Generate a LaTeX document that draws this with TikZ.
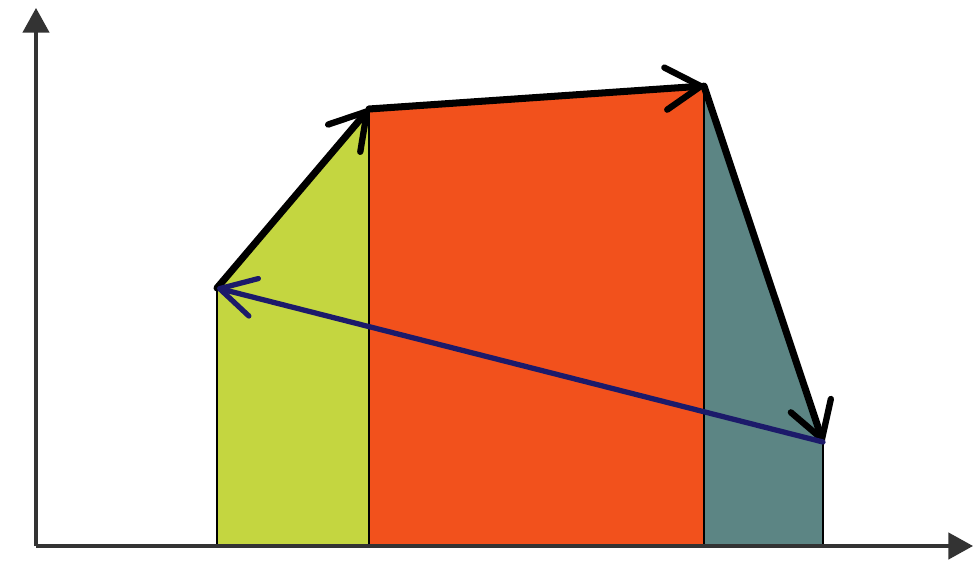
\documentclass[tikz,border=0pt]{standalone}
\usepackage{tikz}
\usetikzlibrary{arrows.meta}

\definecolor{lime}{HTML}{C4D640}
\definecolor{flame}{HTML}{F2511C}
\definecolor{slate}{HTML}{5C8584}
\definecolor{navy}{HTML}{1C1A6A}

\begin{document}
\begin{tikzpicture}[
  x=0.02cm, y=-0.02cm,
  axis/.style={draw=black!80, line width=1.8pt, -{Triangle[length=14pt, width=15pt]}},
  edge/.style={draw, line width=4pt, line cap=round, line join=round, -{Straight Barb[round, length=20pt, width=24pt, line width=3.6pt]}},
  backedge/.style={edge, draw=navy, line width=3pt, -{Straight Barb[round, length=20pt, width=22pt, line width=3pt]}},
  strip/.style={draw=black, line width=1.1pt}
]
  \useasboundingbox (0,0) rectangle (976,563);
  % corners of the path
  \coordinate (a) at (217,288);
  \coordinate (b) at (369,109);
  \coordinate (c) at (704,86);
  \coordinate (d) at (823,442);
  \coordinate (o) at (36,546);
  \coordinate (ytip) at (36,8);
  \coordinate (xtip) at (973,546);
  \coordinate (a0) at (217,546);
  \coordinate (b0) at (369,546);
  \coordinate (c0) at (704,546);
  \coordinate (d0) at (823,546);

  % areas under the path
  \fill[lime] (a0) -- (a) -- (b) -- (b0) -- cycle;
  \fill[flame] (b0) -- (b) -- (c) -- (c0) -- cycle;
  \fill[slate] (c0) -- (c) -- (d) -- (d0) -- cycle;
  \draw[strip] (a0) -- (a);
  \draw[strip] (b0) -- (b);
  \draw[strip] (c0) -- (c);
  \draw[strip] (d0) -- (d);

  % axes
  \draw[axis] (o) -- (ytip);
  \draw[axis] (o) -- (xtip);

  % the cycle
  \draw[edge] (a) -- (b);
  \draw[edge] (b) -- (c);
  \draw[edge] (c) -- (d);
  \draw[backedge] (d) -- (a);
\end{tikzpicture}
\end{document}
